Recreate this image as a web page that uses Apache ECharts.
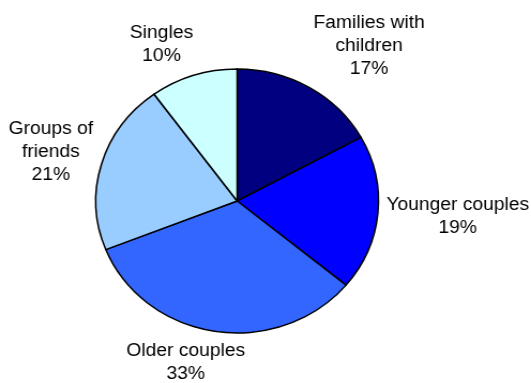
<!DOCTYPE html>
<html>
<head>
<meta charset="utf-8">
<style>
  html, body { margin: 0; padding: 0; background: #ffffff; overflow: hidden; }
  /* The chart is laid out on a narrower canvas and stretched horizontally,
     giving the slightly oval pie and wide lettering of the original. */
  #chart {
    width: 496px;
    height: 383px;
    transform: scaleX(1.0706);
    transform-origin: 0 0;
  }
</style>
<script src="https://cdn.jsdelivr.net/npm/echarts@6/dist/echarts.min.js"></script>
</head>
<body>
<div id="chart"></div>
<script>
// Visitor groups and their share (%)
const categories = ['Families with\nchildren', 'Younger couples', 'Older couples', 'Groups of\nfriends', 'Singles'];
const shares = [17, 19, 33, 21, 10];
const sliceColors = ['#000080', '#0000FF', '#3366FF', '#99CCFF', '#CCFFFF'];

const CX = 221.5, CY = 201, R = 132;
const LABEL_FONT = '18px "Liberation Sans", Arial, sans-serif';
const LINE_H = 23;
const total = shares.reduce((a, b) => a + b, 0);

// Mid-angle of each slice, measured clockwise from 12 o'clock
const midAngles = [];
let acc = 0;
shares.forEach(v => { midAngles.push((acc + v / 2) / total * 2 * Math.PI); acc += v; });

// Size of each label block (name lines plus the percentage line)
const labelText = (name, v) => name + '\n' + v + '%';
const measureCtx = document.createElement('canvas').getContext('2d');
measureCtx.font = LABEL_FONT;
const labelSizes = categories.map((name, i) => {
  const lines = labelText(name, shares[i]).split('\n');
  return {
    w: Math.max(...lines.map(l => measureCtx.measureText(l).width)),
    h: lines.length * LINE_H
  };
});

const chart = echarts.init(document.getElementById('chart'), null, { renderer: 'canvas' });

chart.setOption({
  animation: false,
  backgroundColor: '#ffffff',
  series: [{
    type: 'pie',
    center: [CX, CY],
    radius: R,
    startAngle: 90,
    clockwise: true,
    silent: true,
    data: categories.map((name, i) => ({
      name: name,
      value: shares[i],
      itemStyle: { color: sliceColors[i] }
    })),
    itemStyle: { borderColor: '#000000', borderWidth: 1.5 },
    label: {
      show: true,
      position: 'outside',
      formatter: p => labelText(p.name, p.value),
      fontFamily: '"Liberation Sans", Arial, sans-serif',
      fontSize: 18,
      lineHeight: LINE_H,
      color: '#000000',
      align: 'center',
      overflow: 'none',
      width: 200
    },
    labelLine: { show: false },
    // Place each label just outside the rim, on the slice's mid-angle,
    // with the box pushed outward so its inner edge touches that point.
    labelLayout: function (params) {
      const i = params.dataIndex;
      const a = midAngles[i];
      const dx = Math.sin(a), dy = -Math.cos(a);
      const d = R + 8;
      const px = CX + dx * d, py = CY + dy * d;
      const w = labelSizes[i].w, h = labelSizes[i].h;
      let u, v;
      if (Math.abs(dy) > Math.abs(dx)) {
        v = dy > 0 ? 1 : -1;
        u = Math.max(-1, Math.min(1, dx * 3));
      } else {
        u = dx > 0 ? 1 : -1;
        v = dy / Math.abs(dx);
      }
      return {
        x: px + u * w / 2,
        y: py + v * h / 2,
        align: 'center',
        verticalAlign: 'middle'
      };
    }
  }]
});
</script>
</body>
</html>
